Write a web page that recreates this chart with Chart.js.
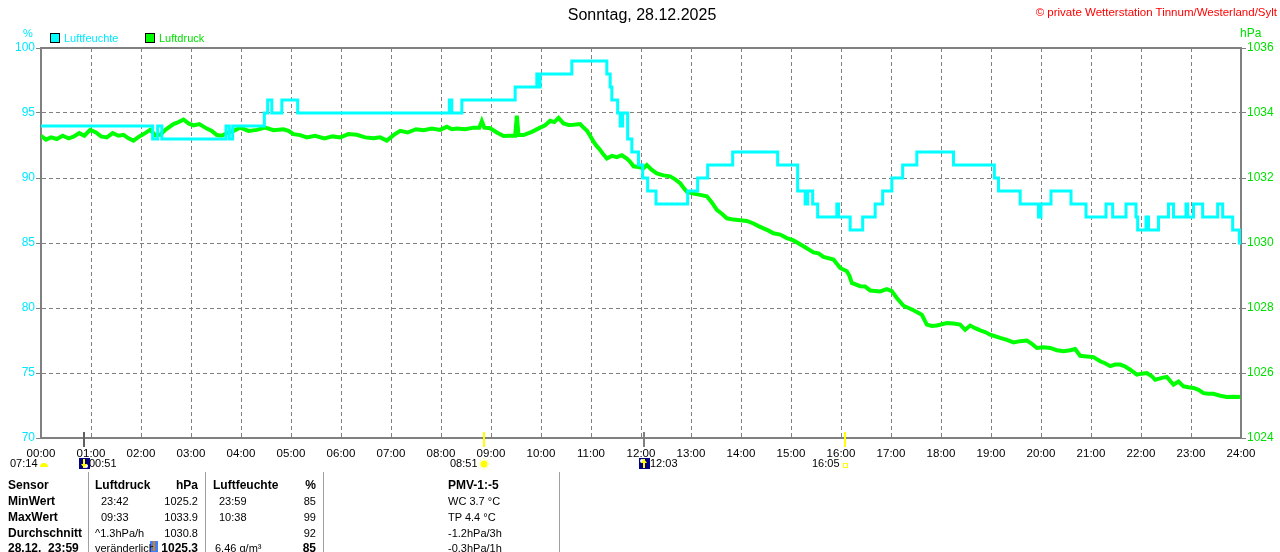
<!DOCTYPE html>
<html><head><meta charset="utf-8">
<script src="https://cdn.jsdelivr.net/npm/chart.js@4.4.1/dist/chart.umd.min.js"></script>
<style>
html,body{margin:0;padding:0;background:#fff;overflow:hidden;}
#wrap{position:relative;width:1280px;height:552px;overflow:hidden;font-family:"Liberation Sans",Arial,sans-serif;}
canvas{position:absolute;left:0;top:0;}
.t{position:absolute;white-space:nowrap;line-height:14px;font-size:11px;color:#000;}
.b{font-weight:bold;font-size:12px;}
.sep{position:absolute;top:472px;height:80px;width:1px;background:#a0a0a0;}
</style></head><body>
<div id="wrap">
<canvas id="c" width="1280" height="552"></canvas>
<div class="t" style="left:0;width:1284px;text-align:center;top:6px;font-size:16px;line-height:18px;">Sonntag, 28.12.2025</div>
<div class="t" style="right:3px;top:5px;color:#ff0000;font-size:11.5px;">© private Wetterstation Tinnum/Westerland/Sylt</div>
<div class="t" style="left:23px;top:26px;color:#00e8ff;">%</div>
<div class="t" style="left:1240px;top:26px;color:#00e000;font-size:12px;">hPa</div>
<div style="position:absolute;left:50px;top:33px;width:8px;height:8px;border:1px solid #000;background:#00ffff;"></div>
<div class="t" style="left:64px;top:31px;color:#00e8ff;">Luftfeuchte</div>
<div style="position:absolute;left:145px;top:33px;width:8px;height:8px;border:1px solid #000;background:#00ff00;"></div>
<div class="t" style="left:159px;top:31px;color:#00e000;">Luftdruck</div>

<div class="t" style="left:10px;top:456px;">07:14</div>
<div class="t" style="left:89px;top:456px;">00:51</div>
<div class="t" style="left:450px;top:456px;">08:51</div>
<div class="t" style="left:650px;top:456px;">12:03</div>
<div class="t" style="left:812px;top:456px;">16:05</div>

<div class="sep" style="left:88px;"></div>
<div class="sep" style="left:205px;"></div>
<div class="sep" style="left:323px;"></div>
<div class="sep" style="left:559px;"></div>

<div class="t b" style="left:8px;top:478px;">Sensor</div>
<div class="t b" style="left:8px;top:494px;">MinWert</div>
<div class="t b" style="left:8px;top:510px;">MaxWert</div>
<div class="t b" style="left:8px;top:526px;">Durchschnitt</div>
<div class="t b" style="left:8px;top:541px;">28.12.&nbsp; 23:59</div>

<div class="t b" style="left:95px;top:478px;">Luftdruck</div>
<div class="t b" style="right:1082px;top:478px;">hPa</div>
<div class="t" style="left:101px;top:494px;">23:42</div>
<div class="t" style="right:1082px;top:494px;">1025.2</div>
<div class="t" style="left:101px;top:510px;">09:33</div>
<div class="t" style="right:1082px;top:510px;">1033.9</div>
<div class="t" style="left:95px;top:526px;">^1.3hPa/h</div>
<div class="t" style="right:1082px;top:526px;">1030.8</div>
<div class="t" style="left:95px;top:541px;width:58px;overflow:hidden;">veränderlich</div>
<div class="t b" style="right:1082px;top:541px;">1025.3</div>

<div class="t b" style="left:213px;top:478px;">Luftfeuchte</div>
<div class="t b" style="right:964px;top:478px;">%</div>
<div class="t" style="left:219px;top:494px;">23:59</div>
<div class="t" style="right:964px;top:494px;">85</div>
<div class="t" style="left:219px;top:510px;">10:38</div>
<div class="t" style="right:964px;top:510px;">99</div>
<div class="t" style="right:964px;top:526px;">92</div>
<div class="t" style="left:215px;top:541px;">6.46 g/m³</div>
<div class="t b" style="right:964px;top:541px;">85</div>

<div class="t b" style="left:448px;top:478px;">PMV-1:-5</div>
<div class="t" style="left:448px;top:494px;">WC 3.7 °C</div>
<div class="t" style="left:448px;top:510px;">TP 4.4 °C</div>
<div class="t" style="left:448px;top:526px;">-1.2hPa/3h</div>
<div class="t" style="left:448px;top:541px;">-0.3hPa/1h</div>
</div>
<script>
// --- data ---
const hourTicks = [0,60,120,180,240,300,360,420,480,540,600,660,720,780,840,900,960,1020,1080,1140,1200,1260,1320,1380,1440];
const humTimes = [0,134,140,145,222,226,230,268,272,277,289,308,490,493,505,569,595,598,599,637,679,683,685,692,695,698,704,709,717,722,728,738,776,788,800,830,884,908,917,920,926,932,955,957,971,986,1001,1010,1021,1034,1051,1095,1144,1149,1175,1197,1200,1212,1236,1254,1278,1286,1302,1314,1316,1326,1329,1341,1353,1359,1374,1376,1383,1394,1412,1418,1430,1438,1440];
const humValues = [94,93,94,93,94,93,94,95,96,95,96,95,96,95,96,97,98,97,98,99,98,97,96,95,94,95,93,92,91,90,89,88,89,90,91,92,91,89,88,89,88,87,88,87,86,87,88,89,90,91,92,91,90,89,88,87,88,89,88,87,88,87,88,87,86,87,86,87,88,87,88,87,88,87,88,87,86,85,85];
const presTimes = [0,6,12,19,26,33,39,46,52,59,66,72,79,86,93,99,105,111,118,125,131,137,143,150,159,165,171,177,183,190,199,205,211,217,223,231,239,249,259,269,279,291,297,303,311,319,329,340,350,359,369,379,389,399,407,415,423,431,440,450,459,469,479,487,493,499,509,519,526,529,532,539,547,555,562,569,571,573,579,589,599,605,611,616,621,627,633,639,647,651,655,659,663,667,671,675,679,685,691,697,703,707,711,717,723,727,733,739,747,755,761,767,771,775,783,791,799,805,811,817,823,831,839,847,855,861,867,873,879,887,895,903,915,927,933,939,951,959,967,970,973,983,989,995,1007,1015,1021,1027,1035,1041,1047,1057,1063,1069,1075,1087,1095,1103,1109,1115,1121,1127,1133,1139,1151,1159,1167,1175,1183,1189,1195,1203,1211,1219,1227,1235,1241,1247,1255,1263,1271,1277,1283,1289,1295,1301,1307,1315,1321,1327,1333,1337,1345,1351,1359,1365,1371,1377,1383,1389,1395,1401,1407,1415,1423,1431,1437,1439];
const presValues = [1033.30,1033.18,1033.25,1033.20,1033.30,1033.22,1033.27,1033.38,1033.30,1033.48,1033.40,1033.28,1033.25,1033.38,1033.30,1033.33,1033.22,1033.15,1033.28,1033.38,1033.48,1033.32,1033.33,1033.50,1033.66,1033.72,1033.80,1033.68,1033.62,1033.66,1033.52,1033.45,1033.32,1033.30,1033.38,1033.45,1033.55,1033.45,1033.48,1033.55,1033.47,1033.50,1033.45,1033.35,1033.32,1033.25,1033.30,1033.22,1033.28,1033.25,1033.35,1033.33,1033.25,1033.22,1033.25,1033.15,1033.32,1033.45,1033.40,1033.50,1033.47,1033.52,1033.48,1033.58,1033.50,1033.52,1033.50,1033.55,1033.55,1033.75,1033.55,1033.53,1033.40,1033.29,1033.30,1033.30,1033.92,1033.32,1033.32,1033.42,1033.55,1033.62,1033.76,1033.72,1033.85,1033.68,1033.63,1033.64,1033.66,1033.55,1033.46,1033.30,1033.12,1032.98,1032.86,1032.72,1032.60,1032.68,1032.64,1032.70,1032.60,1032.50,1032.36,1032.34,1032.30,1032.40,1032.25,1032.14,1032.08,1032.05,1031.96,1031.84,1031.70,1031.58,1031.52,1031.48,1031.44,1031.25,1031.02,1030.90,1030.76,1030.72,1030.70,1030.68,1030.60,1030.52,1030.45,1030.38,1030.30,1030.26,1030.15,1030.08,1029.90,1029.71,1029.68,1029.57,1029.49,1029.23,1029.13,1029.00,1028.77,1028.67,1028.66,1028.54,1028.51,1028.58,1028.52,1028.31,1028.07,1028.00,1027.93,1027.79,1027.49,1027.45,1027.46,1027.54,1027.52,1027.49,1027.33,1027.46,1027.38,1027.31,1027.26,1027.18,1027.08,1027.02,1026.94,1026.98,1027.00,1026.90,1026.77,1026.79,1026.77,1026.70,1026.67,1026.70,1026.74,1026.53,1026.51,1026.49,1026.36,1026.30,1026.21,1026.26,1026.26,1026.20,1026.10,1025.95,1025.98,1026.00,1025.90,1025.79,1025.85,1025.88,1025.64,1025.74,1025.59,1025.56,1025.54,1025.48,1025.38,1025.36,1025.36,1025.30,1025.26,1025.27,1025.26,1025.27];
const markerTimes = [51,531,723,965];
const markerColors = ['#606060','#ffff00','#808080','#ffff00'];

const pad2 = n => (n<10?'0':'')+n;
const humData = humTimes.map((t,i)=>({x:t,y:humValues[i]}));
const presData = presTimes.map((t,i)=>({x:t,y:presValues[i]}));

const framePlugin = {
  id:'frame',
  beforeDatasetsDraw(chart){
    const {ctx, chartArea:a} = chart;
    ctx.save();
    ctx.strokeStyle='#808080'; ctx.lineWidth=2;
    ctx.beginPath(); ctx.moveTo(a.left-1,a.top); ctx.lineTo(a.right+1,a.top); ctx.stroke();
    ctx.restore();
  },
  afterDraw(chart){
    const {ctx} = chart; const xs = chart.scales.x;
    ctx.save();
    markerTimes.forEach((t,i)=>{
      const px = Math.round(xs.getPixelForValue(t));
      ctx.strokeStyle = markerColors[i]; ctx.lineWidth = 2;
      ctx.beginPath(); ctx.moveTo(px,432); ctx.lineTo(px,447); ctx.stroke();
    });
    ctx.fillStyle='#ffff00';
    ctx.beginPath(); ctx.arc(44,467,4,Math.PI,0); ctx.fill();
    const icon = (px, up) => {
      ctx.fillStyle='#000080'; ctx.fillRect(px-5,458,11,11);
      ctx.fillStyle='#ffffff'; ctx.beginPath(); ctx.arc(up?px-2:px+2, up?461:466,2,0,Math.PI*2); ctx.fill();
      ctx.strokeStyle='#ffff00'; ctx.lineWidth=2; ctx.beginPath();
      ctx.moveTo(px,459); ctx.lineTo(px,468); ctx.stroke();
      ctx.fillStyle='#ffff00'; ctx.beginPath();
      if(up){ctx.moveTo(px-3,463);ctx.lineTo(px+3,463);ctx.lineTo(px,459);}
      else {ctx.moveTo(px-3,464);ctx.lineTo(px+3,464);ctx.lineTo(px,468);}
      ctx.fill();
    };
    icon(Math.round(xs.getPixelForValue(markerTimes[0])), false);
    icon(Math.round(xs.getPixelForValue(markerTimes[2])), true);
    const sx = Math.round(xs.getPixelForValue(markerTimes[1])), sy = 464;
    ctx.fillStyle='#ffff00'; ctx.beginPath(); ctx.arc(sx,sy,3.5,0,Math.PI*2); ctx.fill();
    ctx.strokeStyle='#ffff60'; ctx.lineWidth=1;
    for(let k=0;k<8;k++){const a=k*Math.PI/4; ctx.beginPath(); ctx.moveTo(sx+Math.cos(a)*4.5,sy+Math.sin(a)*4.5); ctx.lineTo(sx+Math.cos(a)*6,sy+Math.sin(a)*6); ctx.stroke();}
    const qx = Math.round(xs.getPixelForValue(markerTimes[3]));
    ctx.strokeStyle='#ffff00'; ctx.lineWidth=1; ctx.strokeRect(qx-1.5,463.5,4,4);
    ctx.fillStyle='#4080ff'; ctx.fillRect(150,541,8,11);
    ctx.fillStyle='#e08000'; ctx.fillRect(153,541,2,10);
    ctx.restore();
  }
};

new Chart(document.getElementById('c'), {
  type:'line',
  data:{ datasets:[
    {label:'Luftfeuchte', data:humData, yAxisID:'y', borderColor:'#00ffff', backgroundColor:'#00ffff', borderWidth:3, pointRadius:0, stepped:'before', fill:false},
    {label:'Luftdruck', data:presData, yAxisID:'y1', borderColor:'#00ff00', backgroundColor:'#00ff00', borderWidth:4, pointRadius:0, tension:0, fill:false}
  ]},
  options:{
    responsive:false, animation:false, devicePixelRatio:1,
    layout:{padding:{top:48,left:0,right:0,bottom:0}},
    plugins:{legend:{display:false}, title:{display:false}, tooltip:{enabled:false}},
    scales:{
      x:{type:'linear', min:0, max:1440,
        afterBuildTicks: s => { s.ticks = hourTicks.map(v=>({value:v})); },
        afterFit: s => { s.height = 114; },
        grid:{color:'#808080', lineWidth:1, drawTicks:false},
        border:{color:'#808080', width:2, dash:[4,3]},
        ticks:{color:'#000', font:{family:'Liberation Sans', size:11.5}, padding:9, maxRotation:0, autoSkip:false,
          callback: v => pad2(Math.floor(v/60))+':00'}
      },
      y:{position:'left', min:70, max:100,
        afterFit: s => { s.width = 41; },
        grid:{color:'#808080', lineWidth:1, tickLength:5, tickBorderDash:[], tickColor:'#808080'},
        border:{color:'#808080', width:2, dash:[4,3]},
        ticks:{stepSize:5, color:'#00e8ff', font:{family:'Liberation Sans', size:12}, padding:1,
          callback: v => String(v)}
      },
      y1:{position:'right', min:1024, max:1036,
        afterFit: s => { s.width = 39; },
        grid:{drawOnChartArea:false, color:'#808080', tickLength:5, tickColor:'#808080'},
        border:{color:'#808080', width:2},
        ticks:{stepSize:2, color:'#00e000', font:{family:'Liberation Sans', size:12}, padding:1,
          callback: v => String(v)}
      }
    }
  },
  plugins:[framePlugin]
});
</script>
</body></html>
